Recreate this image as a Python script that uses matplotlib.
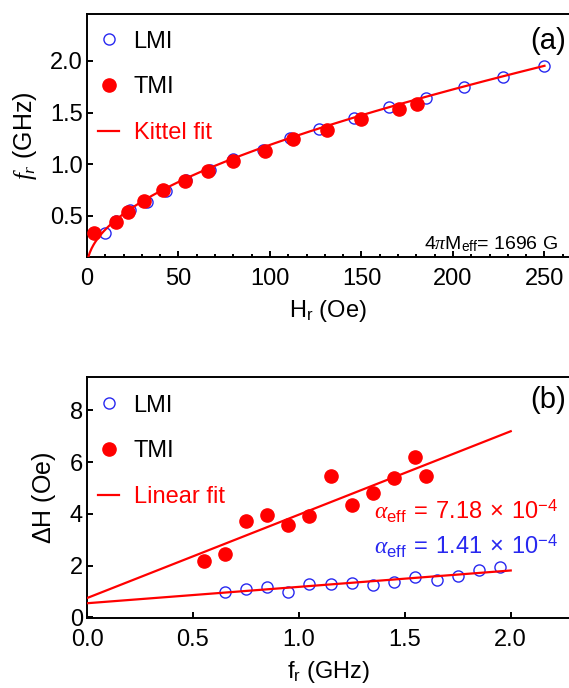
import numpy as np
import matplotlib
matplotlib.use('Agg')
import matplotlib.pyplot as plt
from matplotlib.ticker import MultipleLocator

plt.rcParams['font.family'] = ['Liberation Sans', 'DejaVu Sans']
plt.rcParams['mathtext.fontset'] = 'custom'
plt.rcParams['mathtext.rm'] = 'Liberation Sans'
plt.rcParams['mathtext.it'] = 'Liberation Serif:italic'
plt.rcParams['mathtext.bf'] = 'Liberation Sans:bold'

RED = '#ff0000'
BLUE = '#2828f0'

# (a) resonance frequency vs resonance field
H_lmi = [10, 16, 23.5, 33, 43, 54, 67, 80, 96, 111, 127, 146, 165, 185.5, 206, 227.5, 250]
f_lmi = [0.333, 0.449, 0.551, 0.635, 0.737, 0.842, 0.942, 1.052, 1.138, 1.25, 1.342, 1.448, 1.55, 1.642, 1.746, 1.843, 1.95]
H_tmi = [4, 16, 22.6, 31.3, 41.3, 53.6, 66.3, 80, 97.4, 112.5, 131, 150, 170.5, 180.5]
f_tmi = [0.336, 0.442, 0.54, 0.642, 0.747, 0.836, 0.938, 1.03, 1.126, 1.24, 1.335, 1.44, 1.538, 1.583]
four_pi_meff = 1696.0   # G
gamma = 2.8e-3          # GHz/Oe

# (b) linewidth vs frequency
fr_lmi = [0.65, 0.75, 0.85, 0.95, 1.05, 1.15, 1.25, 1.35, 1.45, 1.55, 1.65, 1.75, 1.85, 1.95]
dH_lmi = [0.97, 1.10, 1.17, 0.97, 1.28, 1.30, 1.32, 1.26, 1.38, 1.55, 1.45, 1.61, 1.83, 1.95]
fr_tmi = [0.55, 0.65, 0.75, 0.85, 0.95, 1.05, 1.15, 1.25, 1.35, 1.45, 1.55, 1.60]
dH_tmi = [2.19, 2.46, 3.73, 3.95, 3.57, 3.92, 5.48, 4.33, 4.81, 5.38, 6.20, 5.48]
alpha_lmi = 1.41e-4
alpha_tmi = 7.18e-4
dH0_lmi = 0.55
dH0_tmi = 0.75

W, Hpx = 569, 688
fig = plt.figure(figsize=(W / 100, Hpx / 100), dpi=100)


def box(l, t, r, b):
    return [l / W, 1 - b / Hpx, (r - l) / W, (b - t) / Hpx]


def style(ax):
    for s in ['left', 'bottom', 'top']:
        ax.spines[s].set_linewidth(1.4)
    ax.spines['right'].set_visible(False)
    ax.tick_params(which='both', direction='in', top=False, right=False,
                   width=1.4, labelsize=17, colors='black')
    ax.tick_params(which='major', length=4.5)
    ax.tick_params(which='minor', length=2.5)
    ax.tick_params(axis='x', pad=8)
    ax.tick_params(axis='y', pad=3)


def legend(ax, fit_label, x0, y0):
    lg = ax.legend(loc='upper left', bbox_to_anchor=(x0, y0), frameon=False,
                   fontsize=17, handlelength=0.9, handletextpad=0.6,
                   labelspacing=1.01, borderpad=0.0, borderaxespad=0.0)
    for t in lg.get_texts():
        if t.get_text() == fit_label:
            t.set_color(RED)
    return lg


def alpha_label(a):
    m, e = ('%.2e' % a).split('e')
    return r'$\alpha_\mathrm{eff}\;=\;%s\;\times\;10^{%d}$' % (m, int(e))


# ---- panel (a)
ax1 = fig.add_axes(box(87, 14, 569, 257))
style(ax1)
ax1.plot(H_lmi, f_lmi, 'o', ms=8, mfc='none', mec=BLUE, mew=1.0, label='LMI', zorder=3)
ax1.plot(H_tmi, f_tmi, 'o', ms=9.5, color=RED, mec=RED, label='TMI', zorder=4)
hh = np.linspace(0, 250, 500)
ax1.plot(hh, gamma * np.sqrt(hh * (hh + four_pi_meff)), '-', color=RED, lw=1.6,
         label='Kittel fit', zorder=5)
ax1.set_xlim(0, 263.4)
ax1.set_ylim(0.1, 2.455)
ax1.xaxis.set_major_locator(MultipleLocator(50))
ax1.xaxis.set_minor_locator(MultipleLocator(10))
ax1.yaxis.set_major_locator(MultipleLocator(0.5))
ax1.set_xlabel(r'H$_\mathrm{r}$ (Oe)', fontsize=17)
ax1.set_ylabel(r'$f_r$ (GHz)', fontsize=18)
ax1.xaxis.set_label_coords(0.5, -0.17)
ax1.yaxis.set_label_coords(-0.10, 0.5)
legend(ax1, 'Kittel fit', 0.023, 0.932)
ax1.text(0.956, 0.889, '(a)', transform=ax1.transAxes, fontsize=21,
         ha='center', va='center')
ax1.text(0.978, 0.03, r'4$\pi$M$_\mathrm{eff}$= %d G' % four_pi_meff,
         transform=ax1.transAxes, fontsize=14, ha='right', va='baseline')

# ---- panel (b)
ax2 = fig.add_axes(box(87, 377, 569, 618))
style(ax2)
ax2.plot(fr_lmi, dH_lmi, 'o', ms=8, mfc='none', mec=BLUE, mew=1.0, label='LMI', zorder=3)
ax2.plot(fr_tmi, dH_tmi, 'o', ms=9.5, color=RED, mec=RED, label='TMI', zorder=4)
ff = np.array([0.0, 2.0])
ax2.plot(ff, dH0_tmi + 4 * np.pi * alpha_tmi / gamma * ff, '-', color=RED, lw=1.6,
         label='Linear fit', zorder=5)
ax2.plot(ff, dH0_lmi + 4 * np.pi * alpha_lmi / gamma * ff, '-', color=RED, lw=1.6, zorder=5)
ax2.set_xlim(0, 2.275)
ax2.set_ylim(-0.02, 9.29)
ax2.xaxis.set_major_locator(MultipleLocator(0.5))
ax2.yaxis.set_major_locator(MultipleLocator(2))
ax2.set_xlabel(r'f$_\mathrm{r}$ (GHz)', fontsize=17)
ax2.set_ylabel(r'$\Delta$H (Oe)', fontsize=18)
ax2.xaxis.set_label_coords(0.5, -0.172)
ax2.yaxis.set_label_coords(-0.06, 0.5)
legend(ax2, 'Linear fit', 0.023, 0.927)
ax2.text(0.956, 0.905, '(b)', transform=ax2.transAxes, fontsize=21,
         ha='center', va='center')
ax2.text(0.979, 0.41, alpha_label(alpha_tmi),
         transform=ax2.transAxes, fontsize=17, color=RED, ha='right', va='baseline')
ax2.text(0.979, 0.262, alpha_label(alpha_lmi),
         transform=ax2.transAxes, fontsize=17, color=BLUE, ha='right', va='baseline')

fig.savefig('out.png', dpi=100)
